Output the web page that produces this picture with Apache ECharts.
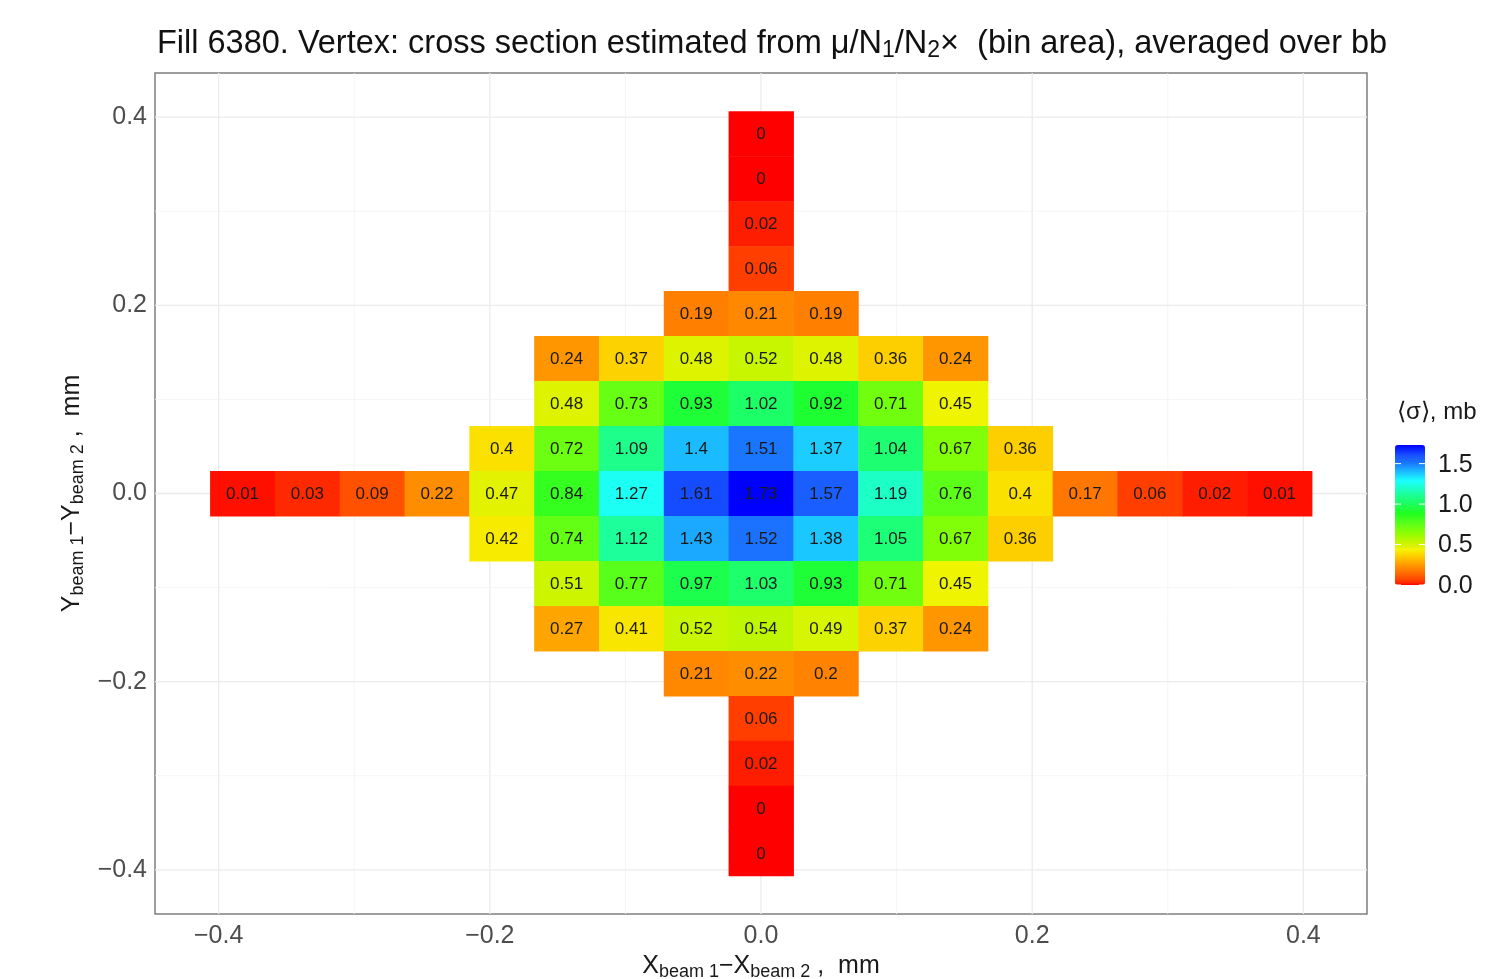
<!DOCTYPE html>
<html>
<head>
<meta charset="utf-8">
<script src="https://cdn.jsdelivr.net/npm/echarts@6/dist/echarts.min.js"></script>
<style>
html,body{margin:0;padding:0;background:#fff;}
#chart{width:1494px;height:979px;}
</style>
</head>
<body>
<div id="chart"></div>
<script>
// ---- data ----
const binSize = 0.0478;                       // mm, bin width (x and y)
const rowBins = [8, 7, 6, 5, 4, 3, 2, 1, 0, -1, -2, -3, -4, -5, -6, -7, -8]; // y bin index, top to bottom
const rowStart = [0, 0, 0, 0, -1, -3, -3, -4, -8, -4, -3, -3, -1, 0, 0, 0, 0]; // first x bin index in each row
const rowValues = [
  [0],
  [0],
  [0.02],
  [0.06],
  [0.19, 0.21, 0.19],
  [0.24, 0.37, 0.48, 0.52, 0.48, 0.36, 0.24],
  [0.48, 0.73, 0.93, 1.02, 0.92, 0.71, 0.45],
  [0.4, 0.72, 1.09, 1.4, 1.51, 1.37, 1.04, 0.67, 0.36],
  [0.01, 0.03, 0.09, 0.22, 0.47, 0.84, 1.27, 1.61, 1.73, 1.57, 1.19, 0.76, 0.4, 0.17, 0.06, 0.02, 0.01],
  [0.42, 0.74, 1.12, 1.43, 1.52, 1.38, 1.05, 0.67, 0.36],
  [0.51, 0.77, 0.97, 1.03, 0.93, 0.71, 0.45],
  [0.27, 0.41, 0.52, 0.54, 0.49, 0.37, 0.24],
  [0.21, 0.22, 0.2],
  [0.06],
  [0.02],
  [0],
  [0]
];
const tickValues = [-0.4, -0.2, 0, 0.2, 0.4];
const minorValues = [-0.3, -0.1, 0.1, 0.3];
const legendTicks = [0, 0.5, 1.0, 1.5];
const colourMin = 0, colourMax = 1.73;

// ---- colour ramp (style): hue / saturation / brightness anchors along the colour scale (fraction 0..1) ----
const hueAnchors = [[0, 0], [0.017, 10], [0.052, 19], [0.127, 33], [0.214, 50], [0.30, 71], [0.416, 97], [0.538, 127], [0.63, 149], [0.734, 177], [0.81, 198], [0.873, 216], [0.93, 226], [1, 240]];
const satAnchors = [[0, 1], [0.36, 1], [0.46, 0.88], [0.92, 0.9], [1, 1]];
const briAnchors = [[0, 1], [0.2, 1], [0.27, 0.95], [0.32, 0.97], [0.38, 1], [1, 1]];
function pw(anchors, t) {
  for (let i = 1; i < anchors.length; i++) {
    if (t <= anchors[i][0]) {
      const [t0, v0] = anchors[i - 1], [t1, v1] = anchors[i];
      return v0 + (v1 - v0) * (t - t0) / (t1 - t0);
    }
  }
  return anchors[anchors.length - 1][1];
}
function hsv(h, s, v) {
  const c = v * s, hp = h / 60, x = c * (1 - Math.abs(hp % 2 - 1)), m = v - c;
  let r = 0, g = 0, b = 0;
  if (hp < 1) { r = c; g = x; } else if (hp < 2) { r = x; g = c; } else if (hp < 3) { g = c; b = x; }
  else if (hp < 4) { g = x; b = c; } else if (hp < 5) { r = x; b = c; } else { r = c; b = x; }
  const to = q => Math.round((q + m) * 255);
  return 'rgb(' + to(r) + ',' + to(g) + ',' + to(b) + ')';
}
const ramp = [];
const N = 200;
for (let i = 0; i <= N; i++) {
  const t = i / N;
  ramp.push(hsv(pw(hueAnchors, t), pw(satAnchors, t), pw(briAnchors, t)));
}

// ---- build ----
const cells = [];
rowBins.forEach((yb, r) => {
  rowValues[r].forEach((v, i) => {
    cells.push([(rowStart[r] + i) * binSize, yb * binSize, v]);
  });
});
const axisMax = 8.5 * binSize * 1.1;
const gridData = tickValues.map(v => [v, 1]).concat(minorValues.map(v => [v, 0]));

const FONT = "'Liberation Sans', Arial, Helvetica, sans-serif";
const fmt = v => (v < 0 ? '\u2212' : '') + Math.abs(v).toFixed(1);

const chart = echarts.init(document.getElementById('chart'), null, {renderer: 'canvas'});

const barTop = 445, barH = 140, barLeft = 1395, barW = 30;
const graphics = [
  {type: 'text', left: 1397, top: 400, style: {text: '\u27e8\u03c3\u27e9, mb', font: '24px ' + FONT, fill: '#1a1a1a'}}
];
legendTicks.forEach(v => {
  const y = barTop + barH * (1 - (v - colourMin) / (colourMax - colourMin));
  graphics.push({type: 'text', x: 1438, y: y + 1, style: {text: v.toFixed(1), font: '25px ' + FONT, fill: '#1a1a1a', align: 'left', verticalAlign: 'middle', textAlign: 'left', textVerticalAlign: 'middle'}, z: 10});
  graphics.push({type: 'line', shape: {x1: barLeft, y1: y, x2: barLeft + 6, y2: y}, style: {stroke: '#fff', lineWidth: 1}, z: 10});
  graphics.push({type: 'line', shape: {x1: barLeft + barW - 6, y1: y, x2: barLeft + barW, y2: y}, style: {stroke: '#fff', lineWidth: 1}, z: 10});
});

const nameRich = {
  n: {fontSize: 25, fontFamily: FONT, color: '#1a1a1a', lineHeight: 30, verticalAlign: 'middle'},
  s: {fontSize: 18, fontFamily: FONT, color: '#1a1a1a', lineHeight: 14, verticalAlign: 'bottom'}
};

const option = {
  backgroundColor: '#ffffff',
  animation: false,
  textStyle: {fontFamily: FONT},
  title: {
    text: '{t|Fill 6380. Vertex: cross section estimated from \u03bc/N}{s|1}{t|/N}{s|2}{t|\u00d7  (bin area), averaged over bb}',
    left: 152, top: 21,
    textStyle: {
      fontWeight: 'normal',
      rich: {
        t: {fontSize: 32.5, fontFamily: FONT, fontWeight: 'normal', color: '#111', lineHeight: 36, verticalAlign: 'middle'},
        s: {fontSize: 23, fontFamily: FONT, fontWeight: 'normal', color: '#111', lineHeight: 17, verticalAlign: 'bottom'}
      }
    }
  },
  grid: {left: 155, right: 127, top: 73, bottom: 65, outerBoundsMode: 'none', containLabel: false,
    show: true, borderColor: '#7f7f7f', borderWidth: 1.5, backgroundColor: 'transparent'},
  xAxis: {
    type: 'value', min: -axisMax, max: axisMax,
    axisLine: {show: false},
    splitLine: {show: false},
    axisTick: {show: true, customValues: tickValues, length: 5, lineStyle: {color: '#333', width: 1}},
    axisLabel: {customValues: tickValues, formatter: fmt, fontSize: 25, color: '#4d4d4d', margin: 10, fontFamily: FONT},
    name: '{n|X}{s|beam 1}{n|\u2212X}{s|beam 2}{n| ,  mm}',
    nameLocation: 'middle', nameGap: 34,
    nameTextStyle: {rich: nameRich}
  },
  yAxis: {
    type: 'value', min: -axisMax, max: axisMax,
    axisLine: {show: false},
    splitLine: {show: false},
    axisTick: {show: true, customValues: tickValues, length: 5, lineStyle: {color: '#333', width: 1}},
    axisLabel: {customValues: tickValues, formatter: fmt, fontSize: 25, color: '#4d4d4d', margin: 8, fontFamily: FONT,
      padding: [4, 0, 0, 0]},
    name: '{n|Y}{s|beam 1}{n|\u2212Y}{s|beam 2}{n| ,  mm}',
    nameLocation: 'middle', nameGap: 68,
    nameTextStyle: {rich: nameRich}
  },
  visualMap: {
    type: 'continuous', min: colourMin, max: colourMax, dimension: 2, seriesIndex: 2,
    calculable: false, hoverLink: false,
    orient: 'vertical', left: barLeft, top: barTop, itemWidth: barW, itemHeight: barH,
    padding: 0, text: null, showLabel: false,
    inRange: {color: ramp}
  },
  graphic: graphics,
  series: [
    {
      type: 'custom', silent: true, z: 1,
      data: gridData,
      renderItem: (params, api) => {
        const x = api.value(0), major = api.value(1);
        const p1 = api.coord([x, -axisMax]), p2 = api.coord([x, axisMax]);
        return {type: 'line', shape: {x1: p1[0], y1: p1[1], x2: p2[0], y2: p2[1]},
          style: {stroke: major ? '#ebebeb' : '#f3f3f3', lineWidth: major ? 1.3 : 0.8}};
      }
    },
    {
      type: 'custom', silent: true, z: 1,
      data: gridData,
      renderItem: (params, api) => {
        const y = api.value(0), major = api.value(1);
        const p1 = api.coord([-axisMax, y]), p2 = api.coord([axisMax, y]);
        return {type: 'line', shape: {x1: p1[0], y1: p1[1], x2: p2[0], y2: p2[1]},
          style: {stroke: major ? '#ebebeb' : '#f3f3f3', lineWidth: major ? 1.3 : 0.8}};
      }
    },
    {
      type: 'custom', z: 3,
      data: cells,
      encode: {x: 0, y: 1},
      renderItem: (params, api) => {
        const c = api.coord([api.value(0), api.value(1)]);
        const s = api.size([binSize, binSize]);
        const v = api.value(2);
        return {
          type: 'group',
          children: [
            {type: 'rect', shape: {x: c[0] - s[0] / 2, y: c[1] - s[1] / 2, width: s[0] + 0.5, height: s[1] + 0.5},
              style: {fill: api.visual('color')}},
            {type: 'text', x: c[0], y: c[1] + 1,
              style: {text: String(v), font: '17px ' + FONT, fill: '#1a1a1a',
                align: 'center', verticalAlign: 'middle', textAlign: 'center', textVerticalAlign: 'middle'}}
          ]
        };
      }
    }
  ]
};
chart.setOption(option);
</script>
</body>
</html>
